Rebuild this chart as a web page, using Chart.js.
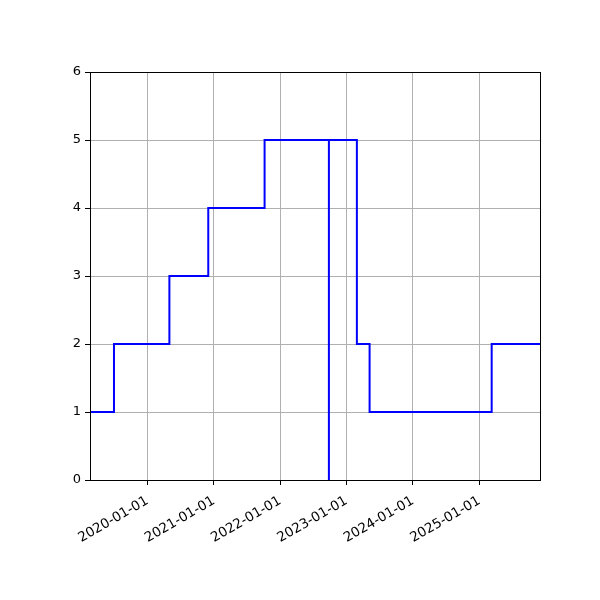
<!DOCTYPE html>
<html>
<head>
<meta charset="utf-8">
<script src="https://cdn.jsdelivr.net/npm/chart.js@4"></script>
<style>
  html, body { margin: 0; padding: 0; background: #fff; }
  #wrap { width: 600px; height: 600px; }
</style>
</head>
<body>
<div id="wrap"><canvas id="stepChart" width="600" height="600"></canvas></div>
<script>
// step data (value holds until the next date)
const stepDates = [
  "2019-02-19", "2019-07-01", "2020-05-01", "2020-12-01", "2021-10-07",
  "2022-09-26", "2022-09-26", "2023-02-27", "2023-05-08", "2025-03-10", "2025-12-01"
]
const stepValues = [1, 2, 3, 4, 5, 0, 5, 2, 1, 2, 2]
const yearTicks = ["2020-01-01", "2021-01-01", "2022-01-01", "2023-01-01", "2024-01-01", "2025-01-01"]
const yTicks = [0, 1, 2, 3, 4, 5, 6]

function toMs(s) {
  const p = s.split("-").map(Number)
  return Date.UTC(p[0], p[1] - 1, p[2])
}

function fmtDate(ms) {
  return new Date(ms).toISOString().slice(0, 10)
}

const points = stepDates.map((d, i) => ({ x: toMs(d), y: stepValues[i] }))

// black frame like matplotlib spines
const frame = {
  id: "frame",
  afterDraw(chart) {
    const a = chart.chartArea
    const ctx = chart.ctx
    ctx.save()
    ctx.strokeStyle = "#000"
    ctx.lineWidth = 1
    ctx.strokeRect(Math.round(a.left) + 0.5, Math.round(a.top) + 0.5, Math.round(a.right - a.left), Math.round(a.bottom - a.top))
    ctx.restore()
  },
}

Chart.defaults.font.family = "'DejaVu Sans', sans-serif"
Chart.defaults.font.size = 13
Chart.defaults.color = "#000"

new Chart(document.getElementById("stepChart"), {
  type: "line",
  data: {
    datasets: [
      {
        data: points,
        borderColor: "#0000ff",
        borderWidth: 2,
        pointRadius: 0,
        stepped: true,
        fill: false,
      },
    ],
  },
  options: {
    responsive: false,
    animation: false,
    devicePixelRatio: 1,
    layout: { padding: { top: 72, right: 60, left: 0, bottom: 0 } },
    plugins: { legend: { display: false }, tooltip: { enabled: false } },
    scales: {
      x: {
        type: "linear",
        min: toMs(stepDates[0]),
        max: toMs(stepDates[stepDates.length - 1]),
        afterBuildTicks(scale) {
          scale.ticks = yearTicks.map((d) => ({ value: toMs(d) }))
        },
        afterFit(scale) {
          scale.height = 120
        },
        ticks: {
          callback: (v) => fmtDate(v),
          minRotation: 30,
          maxRotation: 30,
          autoSkip: false,
          padding: 8,
          font: { size: 13.5 },
        },
        grid: { color: "#b0b0b0", lineWidth: 1, tickColor: "#000", tickLength: 5 },
        border: { display: false },
      },
      y: {
        min: 0,
        max: 6,
        afterBuildTicks(scale) {
          scale.ticks = yTicks.map((v) => ({ value: v }))
        },
        afterFit(scale) {
          scale.width = 90
        },
        ticks: { padding: 4 },
        grid: { color: "#b0b0b0", lineWidth: 1, tickColor: "#000", tickLength: 5 },
        border: { display: false },
      },
    },
  },
  plugins: [frame],
})
</script>
</body>
</html>
